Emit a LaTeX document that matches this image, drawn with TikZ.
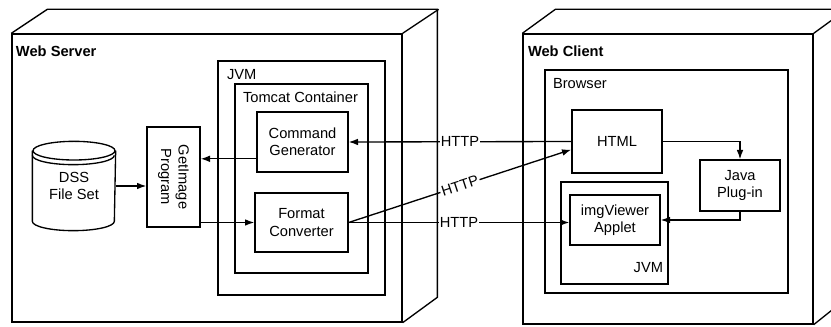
\documentclass[tikz,border=0pt]{standalone}
\usepackage{fontspec}
\setmainfont{Liberation Sans}
\usetikzlibrary{arrows.meta,calc}

\begin{document}
\begin{tikzpicture}[x=0.75pt, y=-0.75pt, >={Latex[length=7pt,width=5pt]}, line width=1pt,
  font=\fontsize{11}{13}\selectfont,
  box/.style={draw, align=center, inner sep=0pt},
  tag/.style={anchor=north west, inner sep=0pt},
  http/.style={fill=white, inner sep=1pt}]
\useasboundingbox[fill=white] (0,0) rectangle (831,327);

\node[box, minimum width=292.5pt, minimum height=216pt] (WS) at (207,178){};
\draw (WS.north west)--++(36,-24)--++(390,0)--++(0,288)--(WS.south east);
\draw (WS.north east)--++(36,-24);
\node[tag, font=\fontsize{11}{13}\selectfont\bfseries] (WSt) at ([shift={(4,12)}]WS.north west){Web Server};

\node[box, minimum width=125.25pt, minimum height=175.5pt] (JVM1) at (301.5,178){};
\node[tag] (JVM1t) at ([shift={(9,8)}]JVM1.north west){JVM};
\node[box, minimum width=99.75pt, minimum height=141.75pt] (TC) at (301.5,178.5){};
\node[tag] (TCt) at ([shift={(8,8)}]TC.north west){Tomcat Container};
\node[box, minimum width=68.25pt, minimum height=45pt] (CG) at (302.5,142){Command\\Generator};
\node[box, minimum width=69.75pt, minimum height=44.25pt] (FC) at (301.5,222.5){Format\\Converter};

\node[box, minimum width=39.75pt, minimum height=75pt] (GP) at (173.5,177){};
\node[rotate=-90, align=center] (GPt) at (GP){GetImage\\Program};

\node[minimum width=61.5pt, minimum height=66pt, inner sep=0pt, align=center] (DSS) at (74,186){DSS\\File Set};
\draw ([yshift=-7pt]DSS.north west) -- ([yshift=7pt]DSS.south west)
  arc[start angle=180, end angle=360, x radius=30.75pt, y radius=7pt] -- ([yshift=-7pt]DSS.north east);
\draw ([yshift=-7pt]DSS.north) ellipse[x radius=30.75pt, y radius=7pt];
\draw ([yshift=-10.5pt]DSS.north west) arc[start angle=180, end angle=360, x radius=30.75pt, y radius=7pt];

\node[box, minimum width=217.5pt, minimum height=217.5pt] (WC) at (668,179){};
\draw (WC.north west)--++(33,-24)--++(290,0)--++(0,290)--(WC.south east);
\draw (WC.north east)--++(33,-24);
\node[tag, font=\fontsize{11}{13}\selectfont\bfseries] (WCt) at ([shift={(5,12)}]WC.north west){Web Client};

\node[box, minimum width=182.25pt, minimum height=167.25pt] (BR) at (666.5,181.5){};
\node[tag] (BRt) at ([shift={(8,8)}]BR.north west){Browser};
\node[box, minimum width=67.5pt, minimum height=47.25pt] (HTML) at (617,141.5){HTML};
\node[box, minimum width=60pt, minimum height=38.25pt] (JP) at (740,185.5){Java\\Plug-in};
\node[box, minimum width=80.25pt, minimum height=76.5pt] (JVM2) at (614.5,233){};
\node[anchor=south east, inner sep=0pt] (JVM2t) at ([shift={(-5,-11)}]JVM2.south east){JVM};
\node[box, minimum width=67.5pt, minimum height=37.5pt] (IV) at (615,220){imgViewer\\Applet};

\draw[->] (DSS.east) -- (DSS.east -| GP.west);
\draw[->] (CG.200) -- (CG.200 -| GP.east);
\draw[->] (GP.east |- FC.west) -- (FC.west);
\draw[->] (HTML.west) -- node[http]{HTTP} (CG.east);
\draw[->] (FC.east) -- node[http, sloped]{HTTP} (HTML.190);
\draw[->] (FC.east) -- node[http]{HTTP} (FC.east -| IV.west);
\draw[->] (HTML.east) -| (JP.north);
\draw[->] (JP.south) |- (IV.east);

\end{tikzpicture}
\end{document}
